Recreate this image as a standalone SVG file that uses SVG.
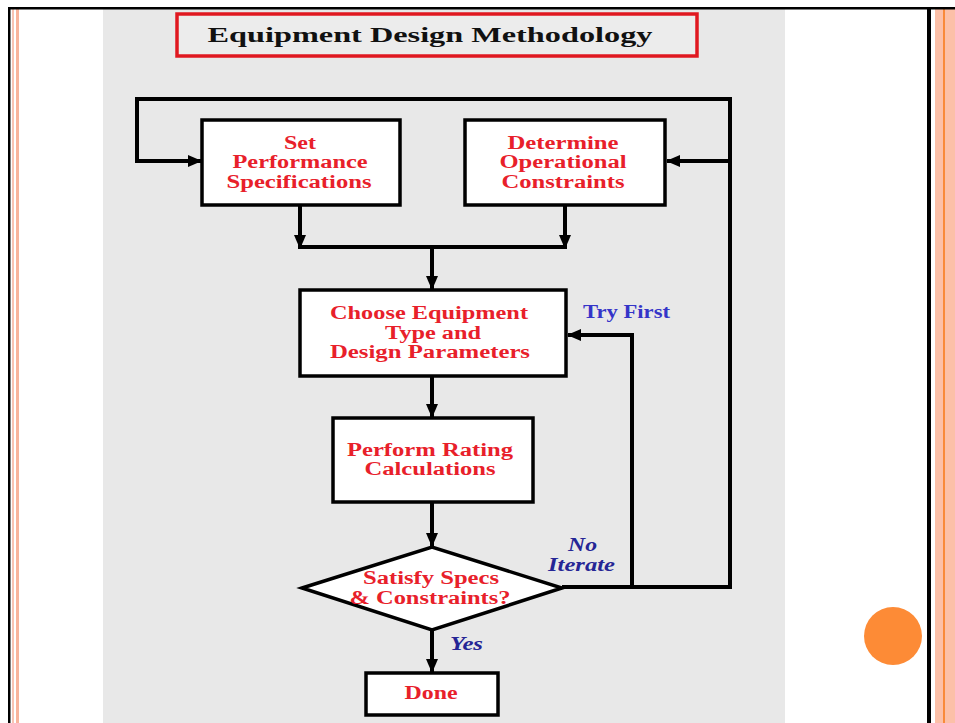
<svg xmlns="http://www.w3.org/2000/svg" width="955" height="723" viewBox="0 0 955 723">
<defs>
<marker id="ah" markerUnits="userSpaceOnUse" markerWidth="14" markerHeight="14" viewBox="0 0 14 14" refX="13" refY="7" orient="auto">
<path d="M0,1 L14,7 L0,13 Z" fill="#000"/>
</marker>
<style>
.box{fill:#fff;stroke:#000;stroke-width:3.5}
.lbl{font-family:"Liberation Serif","Times New Roman",serif;font-weight:bold;font-size:18px;fill:#e8202a;text-anchor:middle}
.con{fill:none;stroke:#000;stroke-width:4}
.blue{font-family:"Liberation Serif","Times New Roman",serif;font-weight:bold;font-size:18px;fill:#3535c8}
.ital{font-family:"Liberation Serif","Times New Roman",serif;font-weight:bold;font-style:italic;font-size:18px;fill:#252595}
</style>
</defs>
<rect x="0" y="0" width="955" height="723" fill="#fff"/>
<rect x="103" y="9" width="682" height="714" fill="#e8e8e8"/>
<rect x="935" y="9" width="20" height="714" fill="#fcc0a8"/>
<rect x="943" y="9" width="2" height="714" fill="#f98a3a"/>
<rect x="12" y="9" width="2" height="714" fill="#f8c4b4"/>
<rect x="16" y="9" width="3" height="714" fill="#f9b49c"/>
<rect x="8" y="7" width="947" height="2.5" fill="#000"/>
<rect x="8" y="7" width="2.5" height="716" fill="#000"/>
<rect x="927" y="7" width="4" height="716" fill="#000"/>
<circle cx="893" cy="636" r="29" fill="#fd8b36"/>

<g id="title">
<rect x="177" y="14" width="520" height="42" fill="#ececec" stroke="#e01820" stroke-width="3.5"/>
<text x="430" y="42" font-family="'Liberation Serif','Times New Roman',serif" font-weight="bold" font-size="22" text-anchor="middle" fill="#111" textLength="445" lengthAdjust="spacingAndGlyphs">Equipment Design Methodology</text>
</g>

<g id="connectors">
<path class="con" d="M562,587 H730 V99 H137 V161 H201" marker-end="url(#ah)"/>
<path class="con" d="M730,161 H667" marker-end="url(#ah)"/>
<path class="con" d="M300,205 V248" marker-end="url(#ah)"/>
<path class="con" d="M565,205 V248" marker-end="url(#ah)"/>
<path class="con" d="M298,247 H567"/>
<path class="con" d="M432,247 V289" marker-end="url(#ah)"/>
<path class="con" d="M632,587 V335 H568" marker-end="url(#ah)"/>
<path class="con" d="M432,376 V417" marker-end="url(#ah)"/>
<path class="con" d="M432,502 V546" marker-end="url(#ah)"/>
<path class="con" d="M432,630 V672" marker-end="url(#ah)"/>
</g>

<g id="set-performance">
<rect class="box" x="202" y="120" width="198" height="85"/>
<text class="lbl" x="300" y="149" textLength="32" lengthAdjust="spacingAndGlyphs">Set</text>
<text class="lbl" x="300" y="168" textLength="135" lengthAdjust="spacingAndGlyphs">Performance</text>
<text class="lbl" x="299" y="188" textLength="145" lengthAdjust="spacingAndGlyphs">Specifications</text>
</g>

<g id="determine-constraints">
<rect class="box" x="465" y="120" width="200" height="85"/>
<text class="lbl" x="563" y="149" textLength="111" lengthAdjust="spacingAndGlyphs">Determine</text>
<text class="lbl" x="563" y="168" textLength="127" lengthAdjust="spacingAndGlyphs">Operational</text>
<text class="lbl" x="563" y="188" textLength="123" lengthAdjust="spacingAndGlyphs">Constraints</text>
</g>

<g id="choose-equipment">
<rect class="box" x="300" y="290" width="266" height="86"/>
<text class="lbl" x="429" y="319" textLength="198" lengthAdjust="spacingAndGlyphs">Choose Equipment</text>
<text class="lbl" x="433" y="339" textLength="96" lengthAdjust="spacingAndGlyphs">Type and</text>
<text class="lbl" x="430" y="358" textLength="200" lengthAdjust="spacingAndGlyphs">Design Parameters</text>
</g>
<text class="blue" x="583" y="318" textLength="87" lengthAdjust="spacingAndGlyphs">Try First</text>

<g id="perform-rating">
<rect class="box" x="333" y="418" width="200" height="84"/>
<text class="lbl" x="430" y="456" textLength="166" lengthAdjust="spacingAndGlyphs">Perform Rating</text>
<text class="lbl" x="430" y="475" textLength="131" lengthAdjust="spacingAndGlyphs">Calculations</text>
</g>

<g id="satisfy-specs">
<polygon class="box" points="302,588 432,547 562,588 432,630"/>
<text class="lbl" x="431" y="584" textLength="136" lengthAdjust="spacingAndGlyphs">Satisfy Specs</text>
<text class="lbl" x="430" y="604" textLength="161" lengthAdjust="spacingAndGlyphs">&amp; Constraints?</text>
</g>
<text class="ital" x="568" y="551" textLength="29" lengthAdjust="spacingAndGlyphs">No</text>
<text class="ital" x="548" y="571" textLength="67" lengthAdjust="spacingAndGlyphs">Iterate</text>
<text class="ital" x="450" y="650" textLength="33" lengthAdjust="spacingAndGlyphs">Yes</text>

<g id="done">
<rect class="box" x="366" y="673" width="132" height="42"/>
<text class="lbl" x="431" y="699" textLength="53" lengthAdjust="spacingAndGlyphs">Done</text>
</g>
</svg>
